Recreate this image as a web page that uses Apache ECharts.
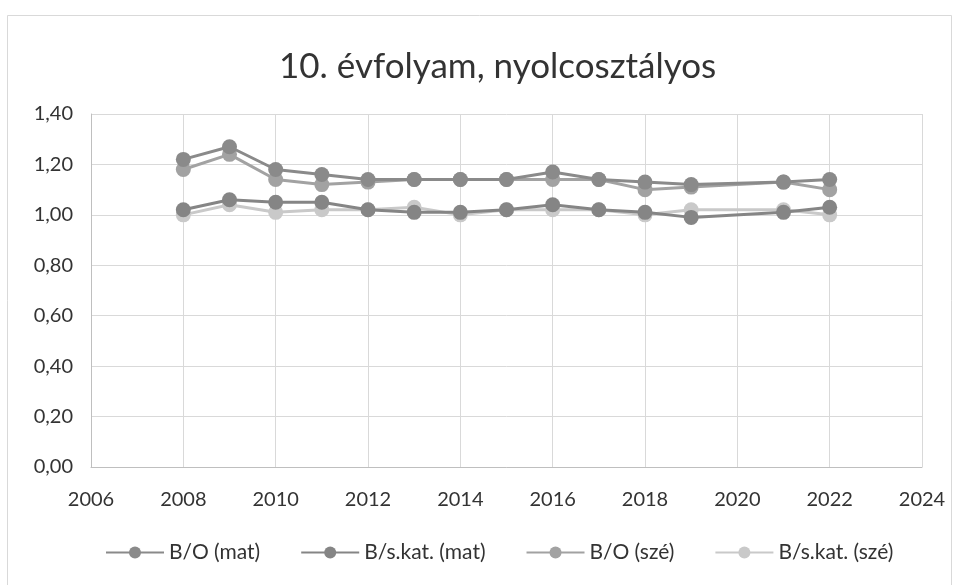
<!DOCTYPE html>
<html>
<head>
<meta charset="utf-8">
<script src="https://cdn.jsdelivr.net/npm/echarts@6/dist/echarts.min.js"></script>
<style>
  html, body { margin: 0; padding: 0; background: #fff; }
  #main { width: 959px; height: 585px; }
</style>
</head>
<body>
<div id="main"></div>
<script>
var myChart = echarts.init(document.getElementById('main'));

// évek (2020 nincs adat)
var years = [2008, 2009, 2010, 2011, 2012, 2013, 2014, 2015, 2016, 2017, 2018, 2019, 2021, 2022];
var boMat = [1.22, 1.27, 1.18, 1.16, 1.14, 1.14, 1.14, 1.14, 1.17, 1.14, 1.13, 1.12, 1.13, 1.14];
var bskatMat = [1.02, 1.06, 1.05, 1.05, 1.02, 1.01, 1.01, 1.02, 1.04, 1.02, 1.01, 0.99, 1.01, 1.03];
var boSze = [1.18, 1.24, 1.14, 1.12, 1.13, 1.14, 1.14, 1.14, 1.14, 1.14, 1.10, 1.11, 1.13, 1.10];
var bskatSze = [1.00, 1.04, 1.01, 1.02, 1.02, 1.03, 1.00, 1.02, 1.02, 1.02, 1.00, 1.02, 1.02, 1.00];

var seriesNames = ['B/O (mat)', 'B/s.kat. (mat)', 'B/O (szé)', 'B/s.kat. (szé)'];
var seriesValues = [boMat, bskatMat, boSze, bskatSze];
var seriesColors = ['#8a8a8a', '#858585', '#a2a2a2', '#c9c9c9'];

var font = 'Lato, "Open Sans", sans-serif';

var pairs = function (vals) {
    return years.map(function (y, i) { return [y, vals[i]]; });
};

var option = {
    backgroundColor: '#fff',
    textStyle: { fontFamily: font },
    title: {
        text: '10. évfolyam, nyolcosztályos',
        left: 274,
        top: 44,
        textStyle: { fontSize: 35, fontWeight: 'normal', color: '#333', fontFamily: font }
    },
    graphic: [{
        type: 'rect',
        shape: { x: 7.5, y: 15.5, width: 944, height: 580 },
        style: { fill: 'none', stroke: '#d9d9d9', lineWidth: 1 },
        silent: true
    }],
    legend: {
        data: seriesNames,
        bottom: 17,
        left: 100,
        itemWidth: 58,
        itemHeight: 15,
        itemGap: 40,
        textStyle: { fontSize: 21, color: '#333', fontFamily: font }
    },
    grid: { left: 91, right: 37, top: 114, bottom: 118 },
    xAxis: {
        type: 'value',
        min: 2006,
        max: 2024,
        interval: 2,
        axisLine: { lineStyle: { color: '#bfbfbf' } },
        axisTick: { show: false },
        splitLine: { show: true, lineStyle: { color: '#d9d9d9' } },
        axisLabel: {
            fontSize: 20,
            color: '#333',
            margin: 23,
            fontFamily: font,
            formatter: function (v) { return String(v); }
        }
    },
    yAxis: {
        type: 'value',
        min: 0,
        max: 1.4,
        interval: 0.2,
        axisLine: { show: true, lineStyle: { color: '#bfbfbf' } },
        axisTick: { show: false },
        splitLine: { lineStyle: { color: '#d9d9d9' } },
        axisLabel: {
            fontSize: 20,
            color: '#333',
            margin: 18,
            fontFamily: font,
            formatter: function (v) { return v.toFixed(2).replace('.', ','); }
        }
    },
    series: seriesNames.map(function (name, i) {
        return {
            name: name,
            type: 'line',
            data: pairs(seriesValues[i]),
            symbol: 'circle',
            symbolSize: 15,
            lineStyle: { width: 3, color: seriesColors[i] },
            itemStyle: { color: seriesColors[i] },
            z: 4 - i
        };
    })
};

myChart.setOption(option);
</script>
</body>
</html>
